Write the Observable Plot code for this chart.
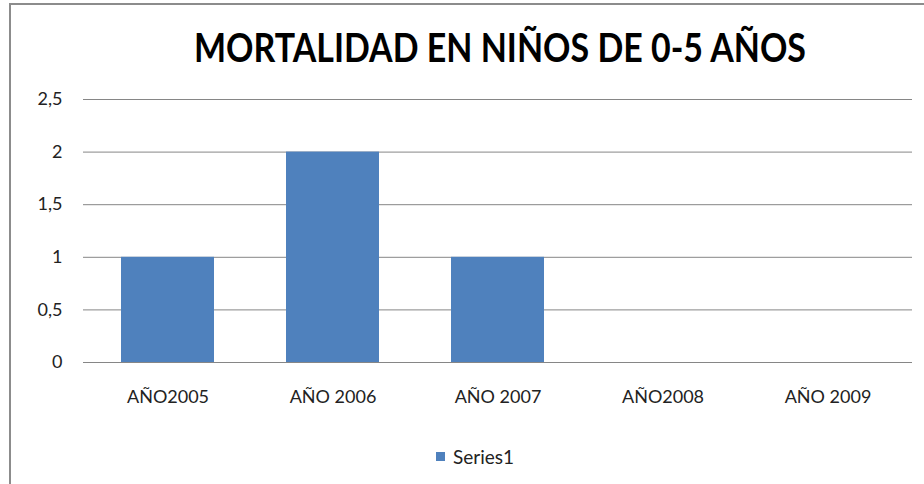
<!DOCTYPE html>
<html><head><meta charset="utf-8">
<script src="https://cdn.jsdelivr.net/npm/d3@7"></script>
<script src="https://cdn.jsdelivr.net/npm/@observablehq/plot@0.6"></script>
<style>
html,body{margin:0;padding:0;background:#fff;}
#wrap{position:relative;width:924px;height:484px;overflow:hidden;font-family:Lato,"Open Sans",sans-serif;}
#frame{position:absolute;left:9px;top:3px;width:930px;height:500px;border-left:2px solid #8c8c8c;border-top:2px solid #8c8c8c;box-sizing:border-box;}
#title{position:absolute;left:0;top:0;}
#legend{position:absolute;left:436px;top:445px;font-size:19px;color:#222;display:flex;align-items:center;}
#legend span.sw{display:inline-block;width:9px;height:9px;background:#4F81BD;margin-right:8px;}
#chart{position:absolute;left:0;top:0;}
</style></head>
<body><div id="wrap"><div id="chart"></div><div id="frame"></div>
<svg id="title" width="924" height="90"><text x="500" y="62" text-anchor="middle" font-family="Lato" font-weight="bold" font-size="40" fill="#000" textLength="612" lengthAdjust="spacingAndGlyphs">MORTALIDAD EN NIÑOS DE 0-5 AÑOS</text></svg>
<div id="legend"><span class="sw"></span><span id="legText"></span></div>
</div>
<script>
const categories = ["AÑO2005", "AÑO 2006", "AÑO 2007", "AÑO2008", "AÑO 2009"];
const values = [1, 2, 1, 0, 0];
const yTicks = [0, 0.5, 1, 1.5, 2, 2.5];
const seriesName = "Series1";
const title = "MORTALIDAD EN NIÑOS DE 0-5 AÑOS";

document.querySelector("#title text").textContent = title;
document.getElementById("legText").textContent = seriesName;

const data = categories.map((c, i) => ({cat: c, v: values[i]}));
const chart = Plot.plot({
  width: 924, height: 484,
  marginLeft: 83, marginRight: 12, marginTop: 99, marginBottom: 122,
  style: {fontFamily: "Lato, 'Open Sans', sans-serif", fontSize: "18px", color: "#222", background: "transparent"},
  x: {domain: categories, paddingInner: 0.434, paddingOuter: 0.217, label: null, tickSize: 0, tickPadding: 28},
  y: {domain: [0, 2.5], ticks: yTicks, label: null, tickSize: 0, tickPadding: 21,
      tickFormat: d => String(d).replace(".", ",")},
  marks: [
    Plot.gridY(yTicks, {stroke: "#868686", strokeOpacity: 1, strokeWidth: 1}),
    Plot.barY(data, {x: "cat", y: "v", fill: "#4F81BD"}),
    Plot.ruleY([0], {stroke: "#868686", strokeWidth: 1})
  ]
});
document.getElementById("chart").appendChild(chart);
</script></body></html>
